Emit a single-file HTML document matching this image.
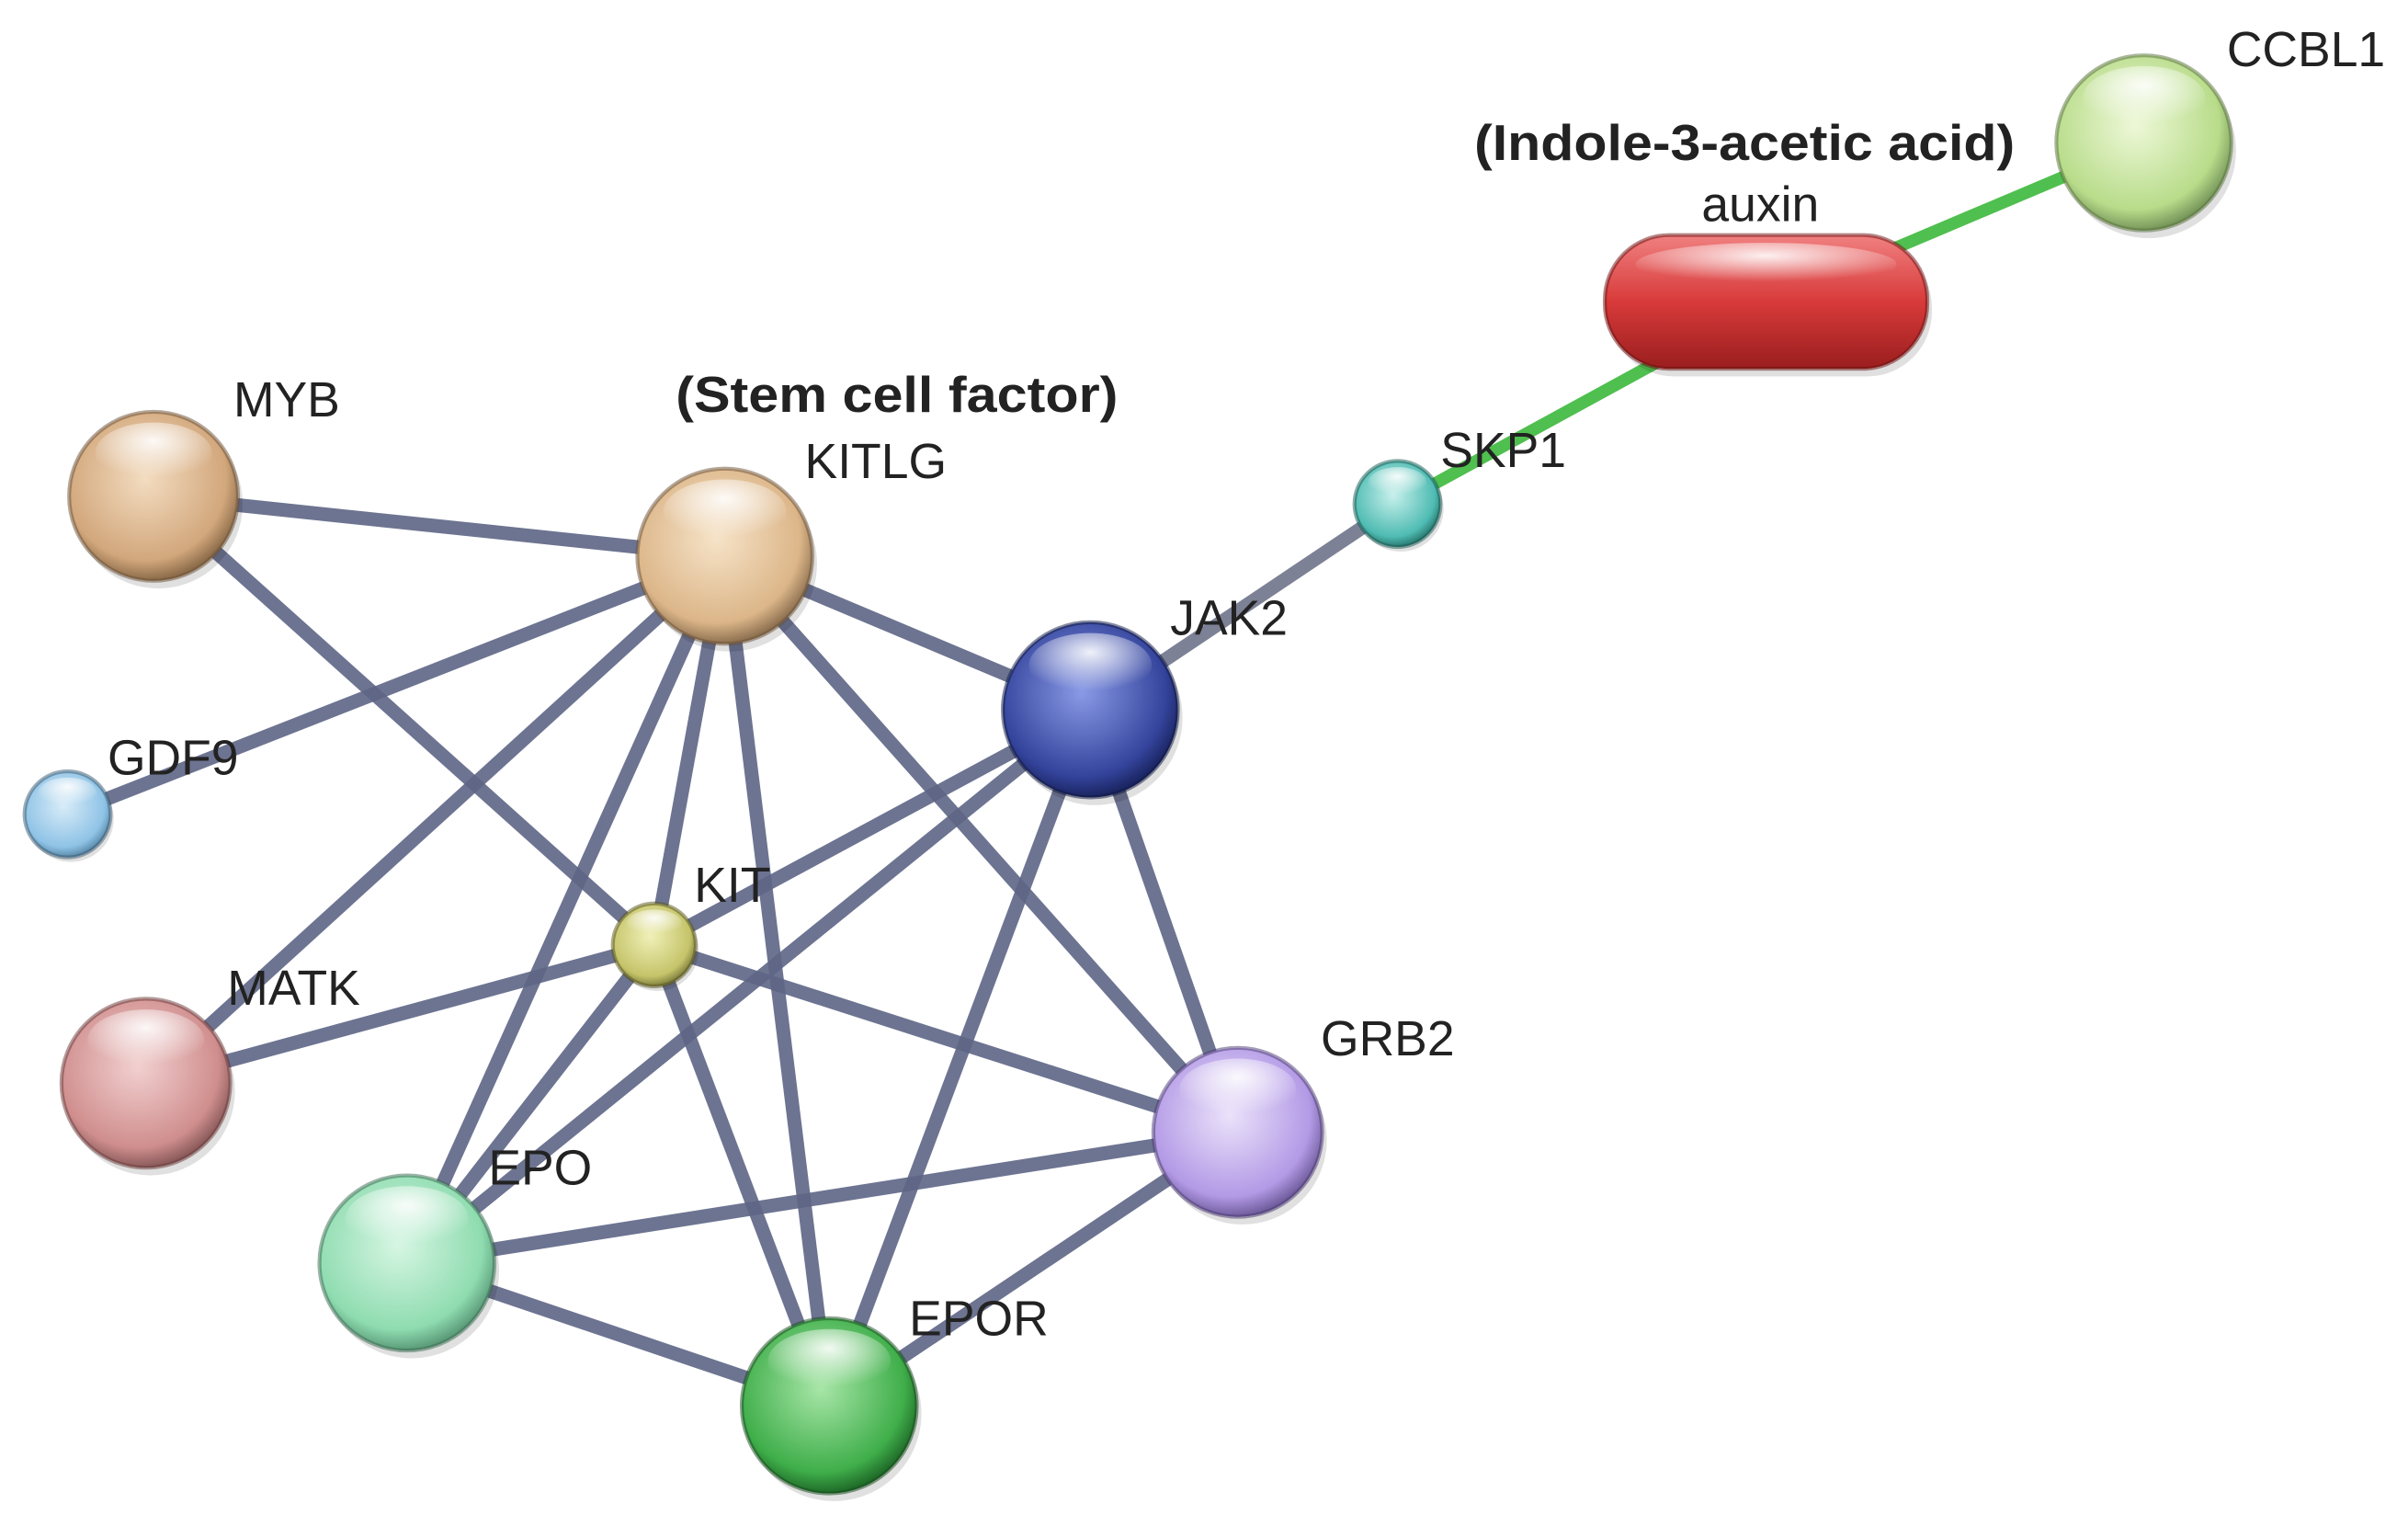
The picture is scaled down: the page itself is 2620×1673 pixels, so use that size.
<!DOCTYPE html>
<html><head><meta charset="utf-8"><style>
html,body{margin:0;padding:0;background:#fff;}
svg{display:block;}
text{font-family:"Liberation Sans",sans-serif;fill:#222;}
</style></head><body>
<svg width="2620" height="1673" viewBox="0 0 1568 1001" preserveAspectRatio="none" xmlns="http://www.w3.org/2000/svg">
<defs>
<radialGradient id="hl" cx="50%" cy="30%" r="60%"><stop offset="0" stop-color="#fff" stop-opacity="0.9"/><stop offset="1" stop-color="#fff" stop-opacity="0"/></radialGradient>
<radialGradient id="g_myb" cx="45%" cy="40%" r="60%"><stop offset="0" stop-color="#f3dcc0"/><stop offset="0.8" stop-color="#d2a77c"/><stop offset="1" stop-color="#8a6a48"/></radialGradient>
<radialGradient id="g_kitlg" cx="45%" cy="40%" r="60%"><stop offset="0" stop-color="#f6e3c8"/><stop offset="0.8" stop-color="#dcb689"/><stop offset="1" stop-color="#8d7050"/></radialGradient>
<radialGradient id="g_gdf9" cx="45%" cy="40%" r="60%"><stop offset="0" stop-color="#d8ecf8"/><stop offset="0.8" stop-color="#8fc3e6"/><stop offset="1" stop-color="#5a8aaa"/></radialGradient>
<radialGradient id="g_kit" cx="45%" cy="40%" r="60%"><stop offset="0" stop-color="#f0f0b8"/><stop offset="0.8" stop-color="#c5c46a"/><stop offset="1" stop-color="#7f7e3e"/></radialGradient>
<radialGradient id="g_matk" cx="45%" cy="40%" r="60%"><stop offset="0" stop-color="#f2d0d0"/><stop offset="0.8" stop-color="#d08e8e"/><stop offset="1" stop-color="#8a5a5a"/></radialGradient>
<radialGradient id="g_epo" cx="45%" cy="40%" r="60%"><stop offset="0" stop-color="#d6f6e3"/><stop offset="0.8" stop-color="#8fdcb0"/><stop offset="1" stop-color="#5a9a78"/></radialGradient>
<radialGradient id="g_epor" cx="45%" cy="40%" r="60%"><stop offset="0" stop-color="#a8e6a8"/><stop offset="0.8" stop-color="#3fae4a"/><stop offset="1" stop-color="#1f6a28"/></radialGradient>
<radialGradient id="g_grb2" cx="45%" cy="40%" r="60%"><stop offset="0" stop-color="#ebe2fa"/><stop offset="0.8" stop-color="#b39ae6"/><stop offset="1" stop-color="#6f5c9c"/></radialGradient>
<radialGradient id="g_jak2" cx="45%" cy="40%" r="60%"><stop offset="0" stop-color="#8a9ae6"/><stop offset="0.8" stop-color="#34449c"/><stop offset="1" stop-color="#1a2460"/></radialGradient>
<radialGradient id="g_skp1" cx="45%" cy="40%" r="60%"><stop offset="0" stop-color="#c8f0ec"/><stop offset="0.8" stop-color="#4fbcb3"/><stop offset="1" stop-color="#2a7a72"/></radialGradient>
<radialGradient id="g_ccbl1" cx="45%" cy="40%" r="60%"><stop offset="0" stop-color="#eef8d8"/><stop offset="0.8" stop-color="#b8dc8a"/><stop offset="1" stop-color="#76965a"/></radialGradient>
<linearGradient id="g_aux" x1="0" y1="0" x2="0" y2="1"><stop offset="0" stop-color="#f08080"/><stop offset="0.5" stop-color="#d83a3a"/><stop offset="1" stop-color="#9a1e1e"/></linearGradient>
</defs>
<g stroke="#5d6585" stroke-width="9" stroke-opacity="0.9">
<line x1="100" y1="323" x2="472" y2="362"/>
<line x1="100" y1="323" x2="426" y2="615"/>
<line x1="44" y1="530" x2="472" y2="362"/>
<line x1="472" y1="362" x2="710" y2="462"/>
<line x1="472" y1="362" x2="426" y2="615"/>
<line x1="472" y1="362" x2="95" y2="705"/>
<line x1="472" y1="362" x2="265" y2="822"/>
<line x1="472" y1="362" x2="540" y2="915"/>
<line x1="472" y1="362" x2="806" y2="737"/>
<line x1="426" y1="615" x2="95" y2="705"/>
<line x1="426" y1="615" x2="710" y2="462"/>
<line x1="426" y1="615" x2="806" y2="737"/>
<line x1="426" y1="615" x2="265" y2="822"/>
<line x1="426" y1="615" x2="540" y2="915"/>
<line x1="710" y1="462" x2="265" y2="822"/>
<line x1="710" y1="462" x2="540" y2="915"/>
<line x1="710" y1="462" x2="806" y2="737"/>
<line x1="265" y1="822" x2="806" y2="737"/>
<line x1="265" y1="822" x2="540" y2="915"/>
<line x1="540" y1="915" x2="806" y2="737"/>
</g>
<line x1="710" y1="462" x2="910" y2="328" stroke="#7d8196" stroke-width="9"/>
<g stroke="#4fbf4f" stroke-width="8">
<line x1="910" y1="328" x2="1150" y2="197"/>
<line x1="1150" y1="197" x2="1396" y2="93"/>
</g>
<g fill="#000" opacity="0.12">
<circle cx="103" cy="328" r="55"/><circle cx="475" cy="367" r="57"/><circle cx="46" cy="533" r="28"/>
<circle cx="428" cy="618" r="27"/><circle cx="98" cy="710" r="55"/><circle cx="268" cy="827" r="57"/>
<circle cx="543" cy="920" r="57"/><circle cx="809" cy="742" r="55"/><circle cx="713" cy="467" r="57"/>
<circle cx="912" cy="331" r="28"/><circle cx="1399" cy="98" r="57"/><rect x="1048" y="158" width="210" height="87" rx="42"/>
</g>
<g stroke-width="2.5" stroke-opacity="0.5">
<circle cx="100" cy="323" r="55" fill="url(#g_myb)" stroke="#6a5036"/>
<circle cx="472" cy="362" r="57" fill="url(#g_kitlg)" stroke="#6a5036"/>
<circle cx="44" cy="530" r="28" fill="url(#g_gdf9)" stroke="#3a5a70"/>
<circle cx="426" cy="615" r="27" fill="url(#g_kit)" stroke="#55541e"/>
<circle cx="95" cy="705" r="55" fill="url(#g_matk)" stroke="#6a3a3a"/>
<circle cx="265" cy="822" r="57" fill="url(#g_epo)" stroke="#3a6a50"/>
<circle cx="540" cy="915" r="57" fill="url(#g_epor)" stroke="#154a1c"/>
<circle cx="806" cy="737" r="55" fill="url(#g_grb2)" stroke="#4a3a70"/>
<circle cx="710" cy="462" r="57" fill="url(#g_jak2)" stroke="#101840"/>
<circle cx="910" cy="328" r="28" fill="url(#g_skp1)" stroke="#1a5a52"/>
<circle cx="1396" cy="93" r="57" fill="url(#g_ccbl1)" stroke="#56703a"/>
<rect x="1045" y="153" width="210" height="87" rx="42" fill="url(#g_aux)" stroke="#6a1010"/>
</g>
<g fill="url(#hl)">
<ellipse cx="100" cy="295" rx="38" ry="20"/><ellipse cx="472" cy="333" rx="40" ry="21"/>
<ellipse cx="44" cy="516" rx="19" ry="10"/><ellipse cx="426" cy="601" rx="18" ry="9"/>
<ellipse cx="95" cy="677" rx="38" ry="20"/><ellipse cx="265" cy="793" rx="40" ry="21"/>
<ellipse cx="540" cy="886" rx="40" ry="21"/><ellipse cx="806" cy="709" rx="38" ry="20"/>
<ellipse cx="710" cy="433" rx="40" ry="21"/><ellipse cx="910" cy="314" rx="19" ry="10"/>
<ellipse cx="1396" cy="64" rx="40" ry="21"/><ellipse cx="1150" cy="172" rx="85" ry="14"/>
</g>
<g font-size="32">
<text x="152" y="271">MYB</text>
<text x="524" y="311">KITLG</text>
<text x="70" y="504">GDF9</text>
<text x="452" y="587">KIT</text>
<text x="148" y="654">MATK</text>
<text x="318" y="771">EPO</text>
<text x="592" y="869">EPOR</text>
<text x="860" y="687">GRB2</text>
<text x="762" y="413">JAK2</text>
<text x="938" y="304">SKP1</text>
<text x="1450" y="43">CCBL1</text>
<text x="1108" y="144">auxin</text>
</g>
<g font-size="33" font-weight="bold">
<text x="440" y="268" textLength="288" lengthAdjust="spacingAndGlyphs">(Stem cell factor)</text>
<text x="960" y="104" textLength="352" lengthAdjust="spacingAndGlyphs">(Indole-3-acetic acid)</text>
</g>
</svg>
</body></html>
